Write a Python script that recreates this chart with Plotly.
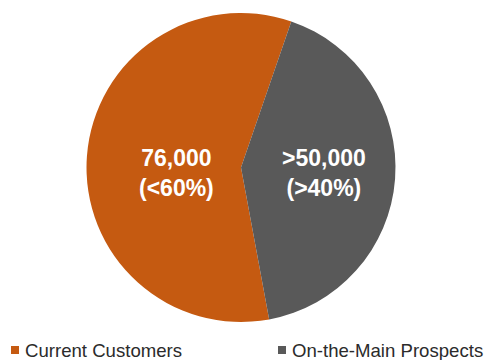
import plotly.graph_objects as go

# Customer base split
categories = ["Current Customers", "On-the-Main Prospects"]
values = [76000, 54600]
value_labels = ["76,000", "&gt;50,000"]
share_labels = ["(&lt;60%)", "(&gt;40%)"]
colors = ["#C55A11", "#595959"]

W, H = 486, 360
FONT = "Liberation Sans, Arial, sans-serif"

fig = go.Figure(
    go.Pie(
        labels=categories,
        values=values,
        sort=False,
        direction="clockwise",
        rotation=169.5,
        marker=dict(colors=colors, line=dict(width=0)),
        textinfo="none",
        hoverinfo="label+value+percent",
        domain=dict(x=[0.1780, 0.8138], y=[0.1056, 0.9639]),
        showlegend=False,
    )
)

# In-slice value labels
label_x = [176, 324]
annotations = []
for txt, share, lx in zip(value_labels, share_labels, label_x):
    annotations.append(
        dict(
            x=lx / W, y=1 - 173 / H, xref="paper", yref="paper",
            xanchor="center", yanchor="middle", showarrow=False,
            text=f"<b>{txt}<br>{share}</b>",
            font=dict(family=FONT, size=23, color="white"),
        )
    )

# Legend row along the bottom
legend_x = [11, 278]
shapes = []
for name, col, lx in zip(categories, colors, legend_x):
    shapes.append(
        dict(
            type="rect", xref="paper", yref="paper",
            x0=lx / W, x1=(lx + 8) / W, y0=1 - 354 / H, y1=1 - 346 / H,
            fillcolor=col, line=dict(width=0),
        )
    )
    annotations.append(
        dict(
            x=(lx + 11.5) / W, y=1 - 350 / H, xref="paper", yref="paper",
            xanchor="left", yanchor="middle", showarrow=False,
            text=name, font=dict(family=FONT, size=18.6, color="#2b2b2b"),
        )
    )

fig.update_layout(
    width=W, height=H,
    margin=dict(l=0, r=0, t=0, b=0),
    paper_bgcolor="white", plot_bgcolor="white",
    annotations=annotations, shapes=shapes,
)

fig.write_html("out.html")
